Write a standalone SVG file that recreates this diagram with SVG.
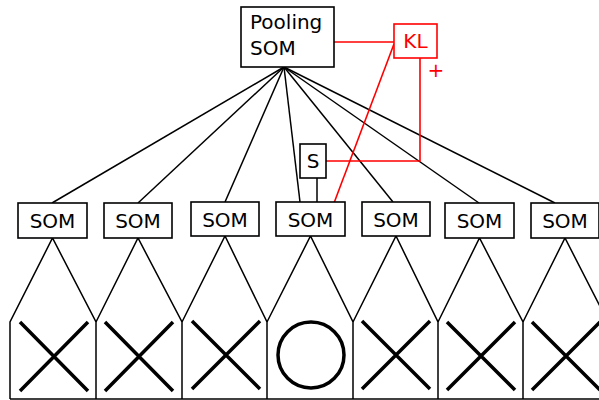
<svg xmlns="http://www.w3.org/2000/svg" width="599" height="400" viewBox="0 0 599 400">
<style>
.box{fill:#fff;stroke:#000;stroke-width:1.6}
.rbox{fill:#fff;stroke:#f00;stroke-width:1.6}
.t{font-family:"DejaVu Sans",sans-serif;font-size:20px;fill:#000}
.rt{font-family:"DejaVu Sans",sans-serif;font-size:20px;fill:#f00}
.ln{stroke:#000;stroke-width:1.5;fill:none}
.rl{stroke:#f00;stroke-width:1.6;fill:none}
.col{stroke:#000;stroke-width:1.5;fill:none}
.mk{stroke:#000;stroke-width:3.5;fill:none}
</style>
<g id="connectors">
<line class="ln" x1="284" y1="67" x2="52" y2="203"/>
<line class="ln" x1="284" y1="67" x2="138" y2="203"/>
<line class="ln" x1="284" y1="67" x2="225" y2="202"/>
<line class="ln" x1="284" y1="67" x2="300" y2="202"/>
<line class="ln" x1="284" y1="67" x2="393" y2="202"/>
<line class="ln" x1="284" y1="67" x2="479" y2="203"/>
<line class="ln" x1="284" y1="67" x2="555" y2="203"/>
<line class="ln" x1="317" y1="178" x2="317" y2="202"/>
<line class="rl" x1="334" y1="42" x2="394" y2="42"/>
<line class="rl" x1="394" y1="44" x2="334" y2="203"/>
<polyline class="rl" points="420,58 420,161 326,161"/>
</g>
<g id="columns">
<path class="col" d="M10,399 L10,322 L52.5,238 L96,322 L96,399"/>
<path class="col" d="M96,322 L138,238 L182,322 L182,399"/>
<path class="col" d="M182,322 L225,236 L267,322 L267,399"/>
<path class="col" d="M267,322 L310.5,236 L353,322 L353,399"/>
<path class="col" d="M353,322 L396,236 L438,322 L438,399"/>
<path class="col" d="M438,322 L479.5,238 L523,322 L523,399"/>
<path class="col" d="M523,322 L565,238 L608,322 L608,399"/>
<line class="col" x1="10" y1="399" x2="599" y2="399"/>
</g>
<g id="marks">
<path class="mk" d="M20,322 L88,391 M88,322 L20,391"/>
<path class="mk" d="M105,322 L173,391 M173,322 L105,391"/>
<path class="mk" d="M192,321 L260,389 M260,321 L192,389"/>
<circle class="mk" cx="311" cy="355" r="33"/>
<path class="mk" d="M362,321 L430,389 M430,321 L362,389"/>
<path class="mk" d="M447,322 L515,390 M515,322 L447,390"/>
<path class="mk" d="M532,322 L600,390 M600,322 L532,390"/>
</g>
<g id="pooling">
<rect class="box" x="241" y="7" width="93" height="60"/>
<text class="t" x="250" y="29">Pooling</text>
<text class="t" x="250" y="55">SOM</text>
</g>
<g id="kl">
<rect class="rbox" x="394" y="24" width="43" height="34"/>
<text class="rt" x="415.5" y="48" text-anchor="middle">KL</text>
<text class="rt" x="436" y="77" text-anchor="middle">+</text>
</g>
<g id="s">
<rect class="box" x="300" y="144" width="26" height="34"/>
<text class="t" x="313" y="168" text-anchor="middle">S</text>
</g>
<g id="som1"><rect class="box" x="18" y="203" width="69" height="35"/><text class="t" x="52.5" y="228" text-anchor="middle">SOM</text></g>
<g id="som2"><rect class="box" x="104" y="203" width="68" height="35"/><text class="t" x="138" y="228" text-anchor="middle">SOM</text></g>
<g id="som3"><rect class="box" x="191" y="202" width="68" height="34"/><text class="t" x="225" y="227" text-anchor="middle">SOM</text></g>
<g id="som4"><rect class="box" x="276" y="202" width="69" height="34"/><text class="t" x="310.5" y="227" text-anchor="middle">SOM</text></g>
<g id="som5"><rect class="box" x="362" y="202" width="68" height="34"/><text class="t" x="396" y="227" text-anchor="middle">SOM</text></g>
<g id="som6"><rect class="box" x="445" y="203" width="69" height="35"/><text class="t" x="479.5" y="228" text-anchor="middle">SOM</text></g>
<g id="som7"><rect class="box" x="531" y="203" width="68" height="35"/><text class="t" x="565" y="228" text-anchor="middle">SOM</text></g>
</svg>
